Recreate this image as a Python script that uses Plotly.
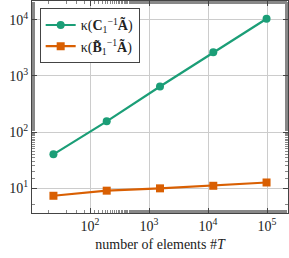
import plotly.graph_objects as go

elements = [24, 192, 1536, 12288, 98304]
kappa_C = [40, 155, 650, 2650, 10500]
kappa_B = [7.3, 9.0, 9.9, 11.0, 12.6]
names = ["κ(<b>C</b><sub>1</sub><sup>−1</sup><b>Ã</b>)",
         "κ(<b>B̃</b><sub>1</sub><sup>−1</sup><b>Ã</b>)"]
x_tickvals = [100, 1000, 10000, 100000]
x_ticktext = ["10<sup>2</sup>", "10<sup>3</sup>", "10<sup>4</sup>", "10<sup>5</sup>"]
y_tickvals = [10, 100, 1000, 10000]
y_ticktext = ["10<sup>1</sup>", "10<sup>2</sup>", "10<sup>3</sup>", "10<sup>4</sup>"]

green = "#1b9e77"
orange = "#d95f02"

fig = go.Figure()
fig.add_trace(go.Scatter(x=elements, y=kappa_C, name=names[0], mode="lines+markers",
                         line=dict(color=green, width=2.2),
                         marker=dict(symbol="circle", size=8, color=green)))
fig.add_trace(go.Scatter(x=elements, y=kappa_B, name=names[1], mode="lines+markers",
                         line=dict(color=orange, width=2.2),
                         marker=dict(symbol="square", size=8, color=orange)))

axis_common = dict(type="log", showline=True, linecolor="#444", linewidth=1, mirror="ticks",
                   ticks="inside", ticklen=5, tickcolor="#444",
                   showgrid=True, gridcolor="#cccccc", gridwidth=1,
                   zeroline=False, automargin=False,
                   minor=dict(ticks="inside", ticklen=3, tickcolor="#888", showgrid=False),
                   tickfont=dict(size=14, color="#222"))

fig.update_xaxes(range=[1.017, 5.356], tickvals=x_tickvals, ticktext=x_ticktext,
                 title=dict(text="number of elements #<i>T</i>", font=dict(size=14, color="#222"), standoff=6),
                 **axis_common)
fig.update_yaxes(range=[0.556, 4.337], tickvals=y_tickvals, ticktext=y_ticktext, **axis_common)

fig.update_layout(width=289, height=258, margin=dict(l=32, r=1, t=1, b=45),
                  plot_bgcolor="white", paper_bgcolor="white",
                  font=dict(family="Liberation Serif, DejaVu Serif, serif", size=14, color="#222"),
                  legend=dict(x=0.03, y=0.965, xanchor="left", yanchor="top",
                              bgcolor="white", bordercolor="#444", borderwidth=1,
                              font=dict(size=14), tracegroupgap=0, itemwidth=30),
                  showlegend=True)

fig.write_html("out.html", config={"displayModeBar": False},
               post_script="document.body.style.margin='0';")
